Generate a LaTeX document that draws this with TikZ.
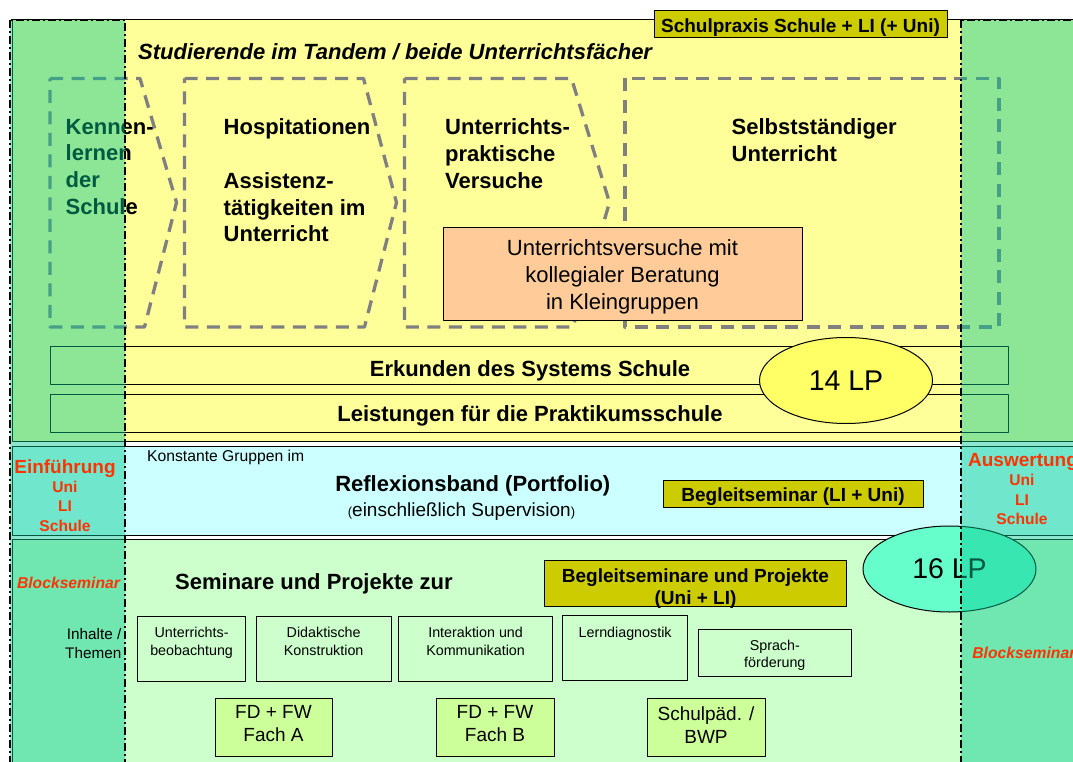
\documentclass[tikz,border=0pt]{standalone}
\usepackage{fontspec}
\setmainfont{Liberation Sans}
\usetikzlibrary{shapes.geometric}

\definecolor{yellowbg}{HTML}{FFFF99}
\definecolor{cyanbg}{HTML}{CCFFFF}
\definecolor{greenbg}{HTML}{CCFFCC}
\definecolor{olivefill}{HTML}{CCCC00}
\definecolor{orangefill}{HTML}{FFCC99}
\definecolor{lpyellow}{HTML}{FFFF66}
\definecolor{lpgreen}{HTML}{66FFCC}
\definecolor{fachfill}{HTML}{CCFF99}
\definecolor{colgreen}{RGB}{0,200,145}
\definecolor{redtext}{HTML}{FF3300}
\definecolor{dashgray}{HTML}{808080}

\begin{document}
\begin{tikzpicture}[x=1pt, y=-1pt, line join=round,
    band/.style={draw, line width=1pt},
    phase/.style={draw=dashgray, line width=3.3pt, dash pattern=on 13pt off 8.5pt},
    column/.style={draw, fill=colgreen, fill opacity=0.45, line width=1.8pt,
        dash pattern=on 8pt off 3pt on 2pt off 3pt},
    phasetxt/.style={anchor=north west, inner sep=0pt, align=left,
        font=\fontsize{22}{26.7}\selectfont\bfseries},
    bigb/.style={anchor=base, inner sep=0pt, font=\fontsize{22}{26.7}\selectfont\bfseries},
    olivetxt/.style={inner sep=0pt, align=center, font=\fontsize{19}{22.3}\selectfont\bfseries},
    topictxt/.style={anchor=north, inner sep=0pt, align=center, font=\fontsize{14.3}{18.3}\selectfont},
    fachtxt/.style={anchor=north, inner sep=0pt, align=center, font=\fontsize{19}{22.7}\selectfont},
    lp/.style={ellipse, draw, line width=1pt, inner sep=0pt, minimum width=173pt,
        minimum height=86pt, font=\fontsize{28.5}{28.5}\selectfont},
    redtxt/.style={text=redtext, inner sep=0pt, align=center}]
    \useasboundingbox (0,0) rectangle (1073,762);
    \clip (0,0) rectangle (1073,762);
    % Baender
    \draw[band, fill=yellowbg] (12.3,20) rectangle (1090,441);
    \draw[band, fill=cyanbg] (12.3,446.7) rectangle (1090,535);
    \draw[band, fill=greenbg] (12.3,539.3) rectangle (1090,800);
    % Phasen der Schulpraxis
    \coordinate (kP) at (176.5,202.5);
    \coordinate (hP) at (396.5,202.5);
    \coordinate (vP) at (609.5,202.5);
    \draw[phase] (50,78.5) -- (140,78.5) -- (kP) -- (144.5,327) -- (50,327) -- cycle;
    \draw[phase] (184.5,78.5) -- (363.5,78.5) -- (hP) -- (364.5,327) -- (184.5,327) -- cycle;
    \draw[phase] (404.5,78.5) -- (571.5,78.5) -- (vP) -- (573,327) -- (404.5,327) -- cycle;
    \draw[phase] (625,78.5) rectangle (999,327);
    \node[phasetxt] (kennen) at (65.5,118.8) {Kennen-\\lernen\\der\\Schule};
    \node[phasetxt] (hosp) at (223.5,118.8) {Hospitationen\\[26.7pt]Assistenz-\\tätigkeiten im\\Unterricht};
    \node[phasetxt] (versuche) at (445,118.8) {Unterrichts-\\praktische\\Versuche};
    \node[phasetxt] (selbst) at (731.5,118.8) {Selbstständiger\\Unterricht};
    \draw[line width=1pt, fill=orangefill] (443,227.7) rectangle (802.3,320);
    \node[anchor=north, inner sep=0pt, align=center, font=\fontsize{22}{27}\selectfont]
        (beratung) at (622.5,239.1) {Unterrichtsversuche mit\\kollegialer Beratung\\in Kleingruppen};
    % Erkunden, Leistungen
    \draw[band, fill=yellowbg] (50.7,346.7) rectangle (1008,384.3);
    \draw[band, fill=yellowbg] (50.7,394) rectangle (1008,432.3);
    \node[bigb] (erkunden) at (530,376.2) {Erkunden des Systems Schule};
    \node[bigb] (leistungen) at (530,421.2) {Leistungen für die Praktikumsschule};
    \node[lp, fill=lpyellow] (lp14) at (846,380.5) {14 LP};
    % Kopf
    \draw[band, fill=olivefill] (654,10.7) rectangle (947,37.7);
    \node[olivetxt, anchor=base] (praxis) at (800.5,32.3) {Schulpraxis Schule + LI (+ Uni)};
    \node[bigb, anchor=base west, font=\fontsize{22}{26.7}\selectfont\bfseries\itshape]
        (tandem) at (138,59.6) {Studierende im Tandem / beide Unterrichtsfächer};
    % Reflexionsband
    \node[anchor=base west, inner sep=0pt, font=\fontsize{15.7}{18}\selectfont]
        (konstant) at (147,461.1) {Konstante Gruppen im};
    \node[bigb] (reflexion) at (472.8,491.2) {Reflexionsband (Portfolio)};
    \node[anchor=base, inner sep=0pt, font=\fontsize{19}{22}\selectfont] (supervision) at (461.5,516.9)
        {{\fontsize{13}{13}\selectfont(}einschließlich Supervision{\fontsize{13}{13}\selectfont)}};
    \draw[band, fill=olivefill] (663,480.7) rectangle (923.4,507.3);
    \node[olivetxt, anchor=base] (begleit) at (793,501.8) {Begleitseminar (LI + Uni)};
    % Seminare und Projekte
    \node[bigb, anchor=base west] (seminare) at (175,589.6) {Seminare und Projekte zur};
    \draw[band, fill=olivefill] (544.5,560) rectangle (846.6,606.7);
    \node[olivetxt, anchor=north] (begleitpro) at (695.5,568.2) {Begleitseminare und Projekte\\(Uni + LI)};
    \node[lp, fill=lpgreen] (lp16) at (949.5,569) {16 LP};
    \draw[band, fill=greenbg] (137.7,616.7) rectangle (245.5,681);
    \draw[band, fill=greenbg] (256.5,616.7) rectangle (391,681);
    \draw[band, fill=greenbg] (398.8,616.7) rectangle (552.5,681);
    \draw[band, fill=greenbg] (562.9,615.7) rectangle (687.4,680);
    \draw[band, fill=greenbg] (698.2,629) rectangle (851.5,676);
    \node[topictxt] (beob) at (191.6,626.6) {Unterrichts-\\beobachtung};
    \node[topictxt] (didaktik) at (323.7,626.6) {Didaktische\\Konstruktion};
    \node[topictxt] (interaktion) at (475.6,626.6) {Interaktion und\\Kommunikation};
    \node[topictxt] (diagnostik) at (625.1,626.6) {Lerndiagnostik};
    \node[topictxt, font=\fontsize{14.3}{16.7}\selectfont] (sprache) at (774.8,639.9) {Sprach-\\förderung};
    \draw[band, fill=fachfill] (215,698) rectangle (332,756);
    \draw[band, fill=fachfill] (436,698) rectangle (554,756);
    \draw[band, fill=fachfill] (647,698) rectangle (765,756);
    \node[fachtxt] (fachA) at (273.5,705.5) {FD + FW\\Fach A};
    \node[fachtxt] (fachB) at (495,705.5) {FD + FW\\Fach B};
    \node[fachtxt] (bwp) at (706,706.5) {Schulpäd. /\\BWP};
    % Spalten links und rechts
    \draw[column] (10,20) rectangle (125,800);
    \draw[column] (960.7,20) rectangle (1100,800);
    \node[redtxt, anchor=base, font=\fontsize{19}{22}\selectfont\bfseries] (einf) at (65,473.5) {Einführung};
    \node[redtxt, anchor=north, font=\fontsize{15.6}{19.2}\selectfont\bfseries] (einfwer) at (65,481.1) {Uni\\LI\\Schule};
    \node[redtxt, anchor=base, font=\fontsize{19}{22}\selectfont\bfseries] (ausw) at (1023,466.8) {Auswertung};
    \node[redtxt, anchor=north, font=\fontsize{15.6}{19.2}\selectfont\bfseries] (auswwer) at (1022,474.4) {Uni\\LI\\Schule};
    \node[redtxt, anchor=base, font=\fontsize{15.7}{18}\selectfont\bfseries\itshape] (blockL) at (68.5,588.3) {Blockseminar};
    \node[redtxt, anchor=base west, font=\fontsize{15.7}{18}\selectfont\bfseries\itshape] (blockR) at (972.2,658.3) {Blockseminar};
    \node[anchor=north east, inner sep=0pt, align=right, font=\fontsize{15.3}{18.7}\selectfont]
        (inhalte) at (121.5,628.5) {Inhalte /\\Themen};
\end{tikzpicture}
\end{document}
